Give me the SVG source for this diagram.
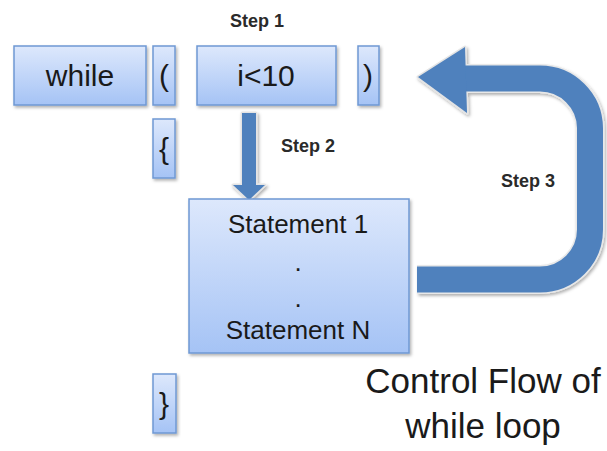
<svg xmlns="http://www.w3.org/2000/svg" width="607" height="451" viewBox="0 0 607 451">
<defs>
<linearGradient id="boxg" x1="0" y1="0" x2="0" y2="1">
<stop offset="0" stop-color="#dde8fc"/>
<stop offset="1" stop-color="#a5c3f5"/>
</linearGradient>
<filter id="sh" x="-20%" y="-20%" width="140%" height="140%">
<feDropShadow dx="1.5" dy="2" stdDeviation="1.5" flood-color="#000" flood-opacity="0.3"/>
</filter>
</defs>
<style>
.box{fill:url(#boxg);stroke:#6f98d3;stroke-width:1.5;filter:url(#sh)}
.t{font-family:"Liberation Sans",Arial,sans-serif;fill:#1a1a1a;text-anchor:middle}
.big{font-size:30px}
.st{font-size:26px}
.step{font-family:"Liberation Sans",Arial,sans-serif;font-weight:bold;font-size:18px;fill:#2a2a2a;text-anchor:middle}
.cap{font-family:"Liberation Sans",Arial,sans-serif;font-size:35px;fill:#1a1a1a;text-anchor:middle}
.arr{fill:#4f81bd}
.arrs{fill:none;stroke:#4f81bd}
.halo{fill:#fff;stroke:#e4e4e4;stroke-width:3;stroke-linejoin:round}
</style>
<rect width="607" height="451" fill="#fff"/>

<g id="connectors">
  <g id="step2-arrow" filter="url(#sh)">
    <polygon class="halo" points="242,113 256,113 256,185 265,185 249,200 233,185 242,185"/>
    <polygon class="arr" points="242,113 256,113 256,185 265,185 249,200 233,185 242,185"/>
  </g>
  <g id="step3-arrow" filter="url(#sh)">
    <path d="M417 279.5 H540 A50 50 0 0 0 590 229.5 V128 A50 50 0 0 0 540 78.5 H462" fill="none" stroke="#e8e8e8" stroke-width="29"/>
    <polygon class="halo" points="418,77 465,47 467,113"/>
    <path class="arrs" d="M417 279.5 H540 A50 50 0 0 0 590 229.5 V128 A50 50 0 0 0 540 78.5 H460" stroke-width="26"/>
    <polygon class="arr" points="418,77 465,47 467,113"/>
  </g>
</g>

<g id="while">
  <rect class="box" x="14" y="46" width="132" height="59"/>
  <text class="t big" x="80" y="86">while</text>
</g>
<g id="lparen">
  <rect class="box" x="153" y="46" width="22" height="59"/>
  <text class="t big" x="164" y="86">(</text>
</g>
<g id="cond">
  <rect class="box" x="197" y="46" width="139" height="59"/>
  <text class="t big" x="266" y="86">i&lt;10</text>
</g>
<g id="rparen">
  <rect class="box" x="358" y="46" width="21" height="59"/>
  <text class="t big" x="368" y="86">)</text>
</g>
<g id="lbrace">
  <rect class="box" x="153" y="119" width="22" height="59"/>
  <text class="t big" x="164" y="159">{</text>
</g>
<g id="body">
  <rect class="box" x="189" y="199" width="220" height="154"/>
  <text class="t st" x="298" y="233">Statement 1</text>
  <text class="t st" x="298" y="271">.</text>
  <text class="t st" x="298" y="307">.</text>
  <text class="t st" x="298" y="339">Statement N</text>
</g>
<g id="rbrace">
  <rect class="box" x="153" y="374" width="23" height="59"/>
  <text class="t big" x="164" y="414">}</text>
</g>

<g id="labels">
  <text class="step" x="257" y="27">Step 1</text>
  <text class="step" x="308" y="152">Step 2</text>
  <text class="step" x="528" y="187">Step 3</text>
  <text class="cap" x="483" y="393">Control Flow of</text>
  <text class="cap" x="483" y="438">while loop</text>
</g>
</svg>
